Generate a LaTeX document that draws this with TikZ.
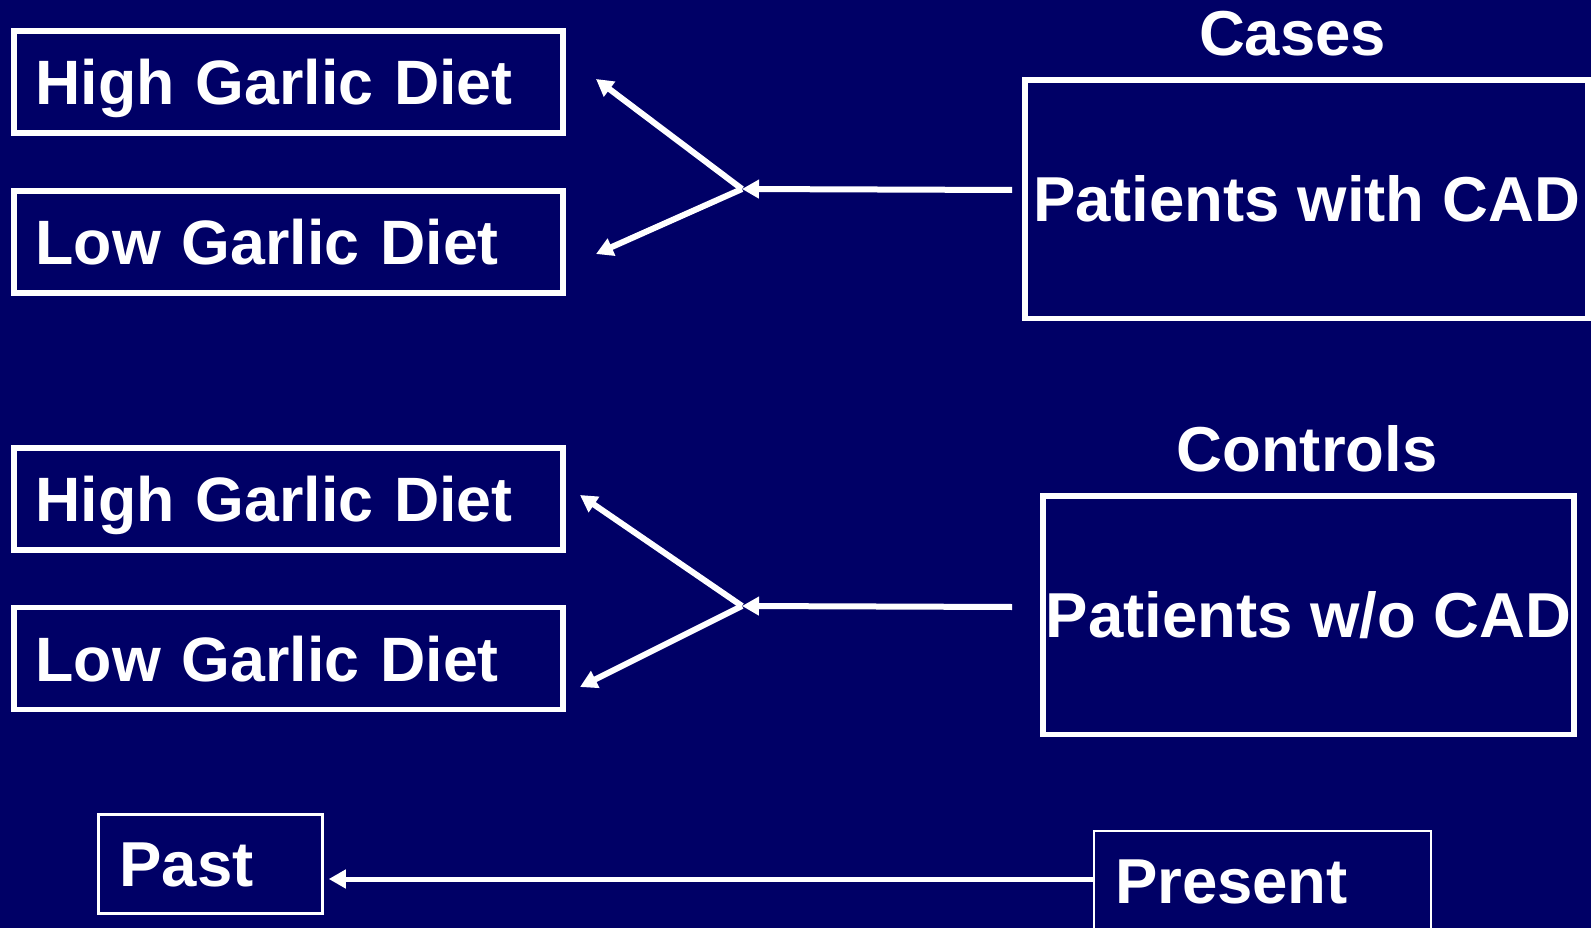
\documentclass[tikz,border=0pt]{standalone}
\usepackage{fontspec}
\setmainfont{Liberation Sans}
\usetikzlibrary{arrows.meta}
\definecolor{navy}{RGB}{0,0,102}
\begin{document}
\begin{tikzpicture}[x=1pt,y=-1pt,
  every node/.style={text=white,font=\fontsize{63.5pt}{76pt}\selectfont\bfseries},
  lbox/.style={draw=white,line width=5.5pt,minimum width=549pt,minimum height=102pt,
    text width=506pt,inner xsep=21.5pt,inner ysep=0pt,align=left,text height=45.3pt,text depth=0pt,
    font=\fontsize{62.7pt}{76pt}\selectfont\bfseries},
  rbox/.style={draw=white,line width=5.5pt,inner sep=0pt,align=center,text height=45.3pt,text depth=0pt},
  pbox/.style={draw=white,line width=2.5pt,minimum height=99pt,inner xsep=21pt,inner ysep=0pt,
    align=left,text height=45.3pt,text depth=0pt},
  title/.style={anchor=base,inner sep=0pt},
  arr/.style={draw=white,line width=6pt,-{Triangle[length=17pt,width=18pt]}}]
\fill[navy] (0,0) rectangle (1591,928);
\useasboundingbox (0,0) rectangle (1591,928);
% left boxes
\node[lbox] (h1) at (288.4,82) {High Garlic Diet};
\node[lbox] (l1) at (288.4,242) {Low Garlic Diet};
\node[lbox] (h2) at (288.4,499) {High Garlic Diet};
\node[lbox] (l2) at (288.4,658.5) {Low Garlic Diet};
% titles
\node[title] (cases) at (1292.6,55.8) {Cases};
\node[title] (controls) at (1307,471.8) {Controls};
% right boxes
\node[rbox,minimum width=563pt,minimum height=238.5pt] (cad) at (1306.5,199.3) {Patients with CAD};
\node[rbox,minimum width=531pt,minimum height=238.6pt] (nocad) at (1308.5,615.3) {Patients w/o CAD};
% past / present
\node[pbox,minimum width=224pt,text width=182pt] (past) at (210.5,864) {Past};
\node[pbox,minimum width=337pt,text width=295pt] (present) at (1262.5,880.5) {Present};
% connector points
\coordinate (s1) at (1012,190);
\coordinate (j1) at (742,189);
\coordinate (t1) at (596,79);
\coordinate (t2) at (596,254);
\coordinate (s2) at (1012,607);
\coordinate (j2) at (742,606);
\coordinate (t3) at (580,495);
\coordinate (t4) at (580,687);
% arrows
\draw[arr] (s1) -- (j1);
\draw[arr] (j1) -- (t1);
\draw[arr] (j1) -- (t2);
\draw[arr] (s2) -- (j2);
\draw[arr] (j2) -- (t3);
\draw[arr] (j2) -- (t4);
\draw[arr,line width=5pt,shorten >=5pt] (present.west |- 0,879) -- (past.east |- 0,879);
\end{tikzpicture}
\end{document}
